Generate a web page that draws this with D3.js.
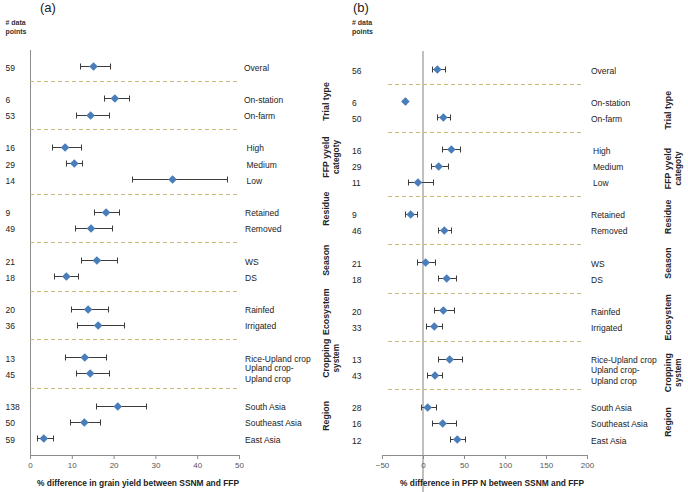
<!DOCTYPE html>
<html><head><meta charset="utf-8">
<script src="https://cdn.jsdelivr.net/npm/d3@7"></script>
<style>
html,body{margin:0;padding:0;background:#fff;}
svg{display:block;font-family:"Liberation Sans",Arial,sans-serif;}
</style></head>
<body>
<svg id="chart" width="688" height="492"></svg>
<script>
// ---------- DATA ----------
const categories = ["Overal","On-station","On-farm","High","Medium","Low","Retained","Removed","WS","DS","Rainfed","Irrigated","Rice-Upland crop","Upland crop-|Upland crop","South Asia","Southeast Asia","East Asia"];
const groupOf = ["","Trial type","Trial type","FFP yyeld|categoty","FFP yyeld|categoty","FFP yyeld|categoty","Residue","Residue","Season","Season","Ecosystem","Ecosystem","Cropping|system","Cropping|system","Region","Region","Region"];

const countsA = [59,6,53,16,29,14,9,49,21,18,20,36,13,45,138,50,59];
const yieldMean = [15.2,20.3,14.5,8.4,10.6,34.1,18.2,14.6,16.0,8.7,13.9,16.3,13.1,14.4,21.0,13.0,3.3];
const yieldLow  = [11.9,17.6,10.9,5.2,8.5,24.3,15.3,10.7,12.1,5.7,9.7,11.3,8.3,10.9,15.7,9.5,1.6];
const yieldHigh = [19.2,23.6,19.0,12.2,12.5,47.1,21.2,19.5,20.7,11.5,18.6,22.4,18.1,18.9,27.8,16.8,5.4];

const countsB = [56,6,50,16,29,11,9,46,21,18,20,33,13,43,28,16,12];
const pfpMean = [17.5,-21.5,24.8,34.6,19.1,-6.1,-15.0,26.0,3.2,28.9,24.8,13.8,32.5,14.6,5.7,24.0,41.8];
const pfpLow  = [10.5,-22.3,17.0,23.6,10.1,-18.7,-21.5,17.9,-6.9,17.9,13.0,4.1,18.7,5.3,-2.4,10.6,33.0];
const pfpHigh = [26.4,-20.7,32.5,45.1,30.1,12.6,-7.7,33.8,14.6,40.2,38.2,23.6,48.0,23.2,15.9,40.2,51.2];

const ticksA = [0,10,20,30,40,50];
const ticksB = [-50,0,50,100,150,200];
const titleA = "% difference in grain yield between SSNM and FFP";
const titleB = "% difference in PFP N between SSNM and FFP";

// ---------- LAYOUT ----------
const svg = d3.select("#chart");
const FONT = "\"Liberation Sans\",Arial,sans-serif";
const crisp = v => Math.round(v) + 0.5;

// slot index: separator slot inserted whenever group changes
const slots = [];
const seps = [];
let s = 0;
categories.forEach((c,i)=>{
  if(i>0 && groupOf[i]!==groupOf[i-1]){ seps.push(s); s++; }
  slots.push(s); s++;
});

function panel(cfg){
  const g = svg.append("g");
  const x = d3.scaleLinear().domain(cfg.domain).range(cfg.xr);
  const y = d3.scaleLinear().domain([0,23]).range(cfg.yr);

  // panel letter
  g.append("text").attr("x",cfg.letterX).attr("y",12).attr("font-size",13).attr("fill","#222").text(cfg.letter);
  // # data points header
  g.append("text").attr("x",cfg.countX).attr("y",25).attr("font-size",7).attr("font-weight","bold").attr("fill","#333").text("# data");
  g.append("text").attr("x",cfg.countX).attr("y",34).attr("font-size",7).attr("font-weight","bold").attr("fill","#333").text("points");

  // vertical axis line
  if(cfg.zeroLine){
    g.append("line").attr("x1",Math.round(x(0))).attr("x2",Math.round(x(0))).attr("y1",51).attr("y2",492)
      .attr("stroke","#c0c0c0").attr("stroke-width",2);
  } else {
    g.append("line").attr("x1",crisp(x(cfg.domain[0]))).attr("x2",crisp(x(cfg.domain[0]))).attr("y1",50).attr("y2",455)
      .attr("stroke","#8c8c8c").attr("stroke-width",1);
  }

  // separators
  seps.forEach(sp=>{
    const yy = crisp(y(sp)-1.5);
    g.append("line").attr("x1",cfg.sepX[0]).attr("x2",cfg.sepX[1])
      .attr("y1",yy).attr("y2",yy)
      .attr("stroke","#c8b97c").attr("stroke-width",1).attr("stroke-dasharray","4,3");
  });

  // x axis
  const ax = g.append("g").attr("transform",`translate(0,455)`)
    .call(d3.axisBottom(x).tickValues(cfg.ticks).tickSize(4).tickSizeOuter(0).tickPadding(3));
  ax.select(".domain").attr("stroke","#8c8c8c");
  ax.selectAll(".tick line").attr("stroke","#8c8c8c");
  ax.selectAll(".tick text").attr("font-size",8).attr("fill","#555").attr("font-family",FONT);

  // axis title
  g.append("text").attr("x",cfg.titleX).attr("y",486).attr("text-anchor","middle")
    .attr("font-size",9).attr("font-weight","bold").attr("fill","#222")
    .attr("textLength",cfg.titleW).attr("lengthAdjust","spacingAndGlyphs").text(cfg.title);

  // error bars
  categories.forEach((c,i)=>{
    const yy = crisp(y(slots[i]));
    const x1 = crisp(x(cfg.low[i])), x2 = crisp(x(cfg.high[i]));
    g.append("line").attr("x1",x1).attr("x2",x2).attr("y1",yy).attr("y2",yy).attr("stroke","#3c3c3c").attr("stroke-width",1);
    [x1,x2].forEach(xx=>g.append("line").attr("x1",xx).attr("x2",xx).attr("y1",yy-3).attr("y2",yy+3).attr("stroke","#3c3c3c").attr("stroke-width",1));
  });
  // diamonds
  const r = 4.3;
  categories.forEach((c,i)=>{
    const yy = crisp(y(slots[i])), xx = x(cfg.mean[i]);
    g.append("path").attr("d",`M${xx},${yy-r}L${xx+r},${yy}L${xx},${yy+r}L${xx-r},${yy}Z`).attr("fill","#4a7ebb");
  });

  // counts and category labels
  categories.forEach((c,i)=>{
    const yy = y(slots[i]) + 1.5;
    g.append("text").attr("x",cfg.countX).attr("y",yy).attr("dominant-baseline","central")
      .attr("font-size",8.5).attr("fill","#222").text(cfg.counts[i]);
    const lines = c.split("|");
    const lx = cfg.labelX + (cfg.indent[groupOf[i]]||0);
    lines.forEach((t,k)=>{
      const off = lines.length===1 ? 0 : (k===0 ? -6.5 : 4.5);
      g.append("text").attr("x",lx).attr("y",yy+off).attr("dominant-baseline","central")
        .attr("font-size",8.5).attr("fill","#222").text(t);
    });
  });

  // group labels (rotated)
  const gnames = Array.from(new Set(groupOf)).filter(d=>d);
  gnames.forEach((gn,gi)=>{
    const idx = categories.map((c,i)=>i).filter(i=>groupOf[i]===gn);
    const cy = d3.mean(idx,i=>y(slots[i])) + cfg.groupShift[gi];
    const lines = gn.split("|");
    lines.forEach((t,k)=>{
      const gx = cfg.groupX + k*9.5;
      g.append("text").attr("transform",`translate(${gx},${cy}) rotate(-90)`)
        .attr("text-anchor","middle").attr("dominant-baseline","central")
        .attr("font-size", k===0 ? 8.8 : 8.3).attr("font-weight","bold").attr("fill","#222").text(t);
    });
  });
}

panel({
  letter:"(a)", letterX:40, countX:5.5,
  domain:[0,50], xr:[30,239], yr:[66,438], ticks:ticksA,
  mean:yieldMean, low:yieldLow, high:yieldHigh, counts:countsA,
  sepX:[30,238], zeroLine:false,
  title:titleA, titleX:138, titleW:202,
  labelX:244, indent:{"FFP yyeld|categoty":2.5,"Season":1,"Residue":1,"Ecosystem":1,"Cropping|system":1,"Region":1},
  groupX:326, groupShift:[-5,-6,-11,-8,-5,-7,-6]
});

panel({
  letter:"(b)", letterX:353, countX:352,
  domain:[-50,200], xr:[382,587], yr:[69,439], ticks:ticksB,
  mean:pfpMean, low:pfpLow, high:pfpHigh, counts:countsB,
  sepX:[388,584], zeroLine:true,
  title:titleB, titleX:492, titleW:184,
  labelX:591, indent:{"FFP yyeld|categoty":2},
  groupX:668, groupShift:[1,3,-5,-7,-1,6,-1]
});
</script>
</body></html>
